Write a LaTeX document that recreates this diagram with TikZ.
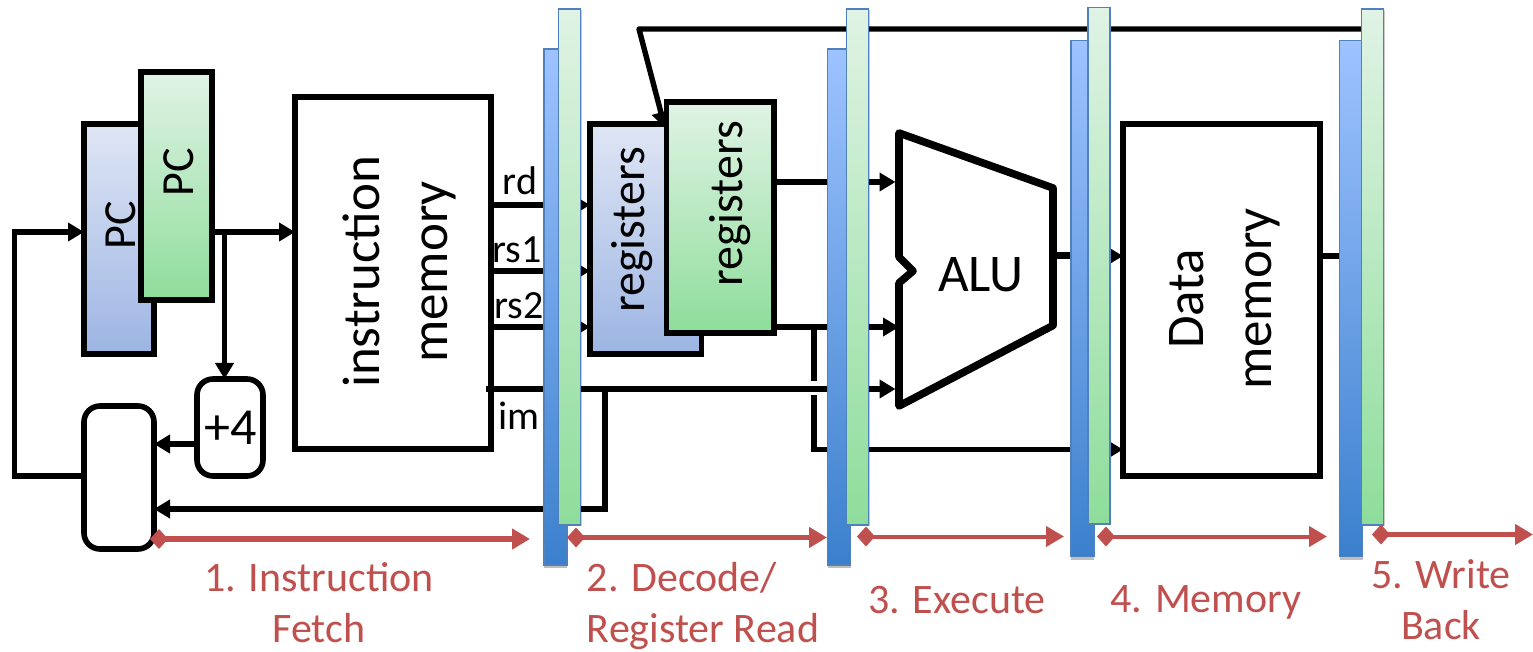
\documentclass[tikz,border=0pt]{standalone}
\usepackage{fontspec}
\setmainfont{Carlito}
\usetikzlibrary{arrows.meta,shadows}

\definecolor{phasered}{HTML}{C0504D}
\definecolor{latchedge}{HTML}{4F81BD}
\definecolor{boxbluetop}{HTML}{DFE6F5}
\definecolor{boxbluelow}{HTML}{9DB5E3}
\definecolor{greentop}{HTML}{E0F3E5}
\definecolor{greenlow}{HTML}{8EDD9B}
\definecolor{latchtop}{HTML}{9EC3FF}
\definecolor{latchmid}{HTML}{7AAAEC}
\definecolor{latchlow}{HTML}{3B80CD}

\tikzset{
  blk/.style={draw,line width=2.8pt,inner sep=0pt,outer sep=0pt,fill=white},
  bluebox/.style={blk,top color=boxbluetop,bottom color=boxbluelow},
  greenbox/.style={blk,top color=greentop,bottom color=greenlow},
  bluelatch/.style={draw=latchedge,line width=.8pt,inner sep=0pt,minimum width=11.5pt,minimum height=258pt,
    top color=latchtop,middle color=latchmid,bottom color=latchlow,
    drop shadow={shadow xshift=0pt,shadow yshift=-1.5pt,opacity=.25,fill=black}},
  greenlatch/.style={draw=latchedge,line width=.8pt,inner sep=0pt,minimum width=11pt,minimum height=258pt,
    top color=greentop,bottom color=greenlow,
    drop shadow={shadow xshift=.5pt,shadow yshift=-.5pt,opacity=.2,fill=black}},
  wire/.style={line width=2.7pt,-{Triangle[length=8pt,width=9pt]}},
  plainwire/.style={line width=2.7pt},
  phase/.style={phasered,line width=2.6pt,{Diamond[length=9pt,width=10pt]}-{Triangle[length=9pt,width=10pt]}},
  vtext/.style={rotate=90,align=center,inner sep=0pt},
  bigvtext/.style={vtext,font=\fontsize{26.5}{34}\selectfont},
  sigtext/.style={inner sep=0pt,font=\fontsize{20}{24}\selectfont},
  phasetext/.style={phasered,inner sep=0pt,font=\fontsize{21}{25.5}\selectfont},
}

\begin{document}
\begin{tikzpicture}[x=.5pt,y=-.5pt]
  \useasboundingbox (0,0) rectangle (1533,652);

  % boxes
  \node[bluebox,minimum width=35pt,minimum height=115pt]   (pca) at (119,239) {};
  \node[greenbox,minimum width=35.5pt,minimum height=114pt] (pcb) at (176.5,186) {};
  \node[blk,minimum width=98pt,minimum height=176pt]        (imem) at (393,273) {};
  \node[blk,rounded corners=8pt,minimum width=33pt,minimum height=48.5pt] (plusfour) at (230,427.5) {};
  \node[blk,rounded corners=8pt,minimum width=35pt,minimum height=71.5pt] (mux) at (119,477.5) {};
  \node[bluebox,minimum width=55.7pt,minimum height=115pt]  (rega) at (645.7,239) {};
  \node[blk,minimum width=98.5pt,minimum height=176pt]      (dmem) at (1221.5,300) {};

  % ALU outline
  \coordinate (alua) at (899,133);
  \coordinate (alub) at (1053,188);
  \coordinate (aluc) at (1053,325.5);
  \coordinate (alud) at (899,406);
  \draw[line width=3.8pt,line join=round,fill=white] (alua) -- (alub) -- (aluc) -- (alud)
    -- (899,283) -- (913,271) -- (899,257) -- cycle;

  % write back into the registers
  \coordinate (wbend)  at (1365,29);
  \coordinate (wbturn) at (639,29);
  \coordinate (wbtip)  at (665,128);
  \draw[wire,line join=round] (wbend) -- (wbturn) -- (wbtip);
  \node[greenbox,minimum width=53.7pt,minimum height=115.5pt] (regb) at (720,217.5) {};

  % fetch
  \coordinate (fbleft) at (14.5,232);
  \coordinate (fbdown) at (14.5,476);
  \coordinate (incr)   at (224.5,232);
  \draw[wire] (mux.west |- fbdown) -- (fbdown) -- (fbleft) -- (pca.west |- fbleft);
  \draw[wire] (pcb.east |- fbleft) -- (imem.west |- fbleft);
  \draw[wire] (incr) -- (incr |- plusfour.north);
  \draw[wire] (plusfour.west |- 0,444) -- (mux.east |- 0,444);

  % decode
  \draw[wire] (imem.east |- 0,205) -- (rega.west |- 0,205);
  \draw[wire] (imem.east |- 0,271) -- (rega.west |- 0,271);
  \draw[wire] (imem.east |- 0,327) -- (rega.west |- 0,327);
  \coordinate (imstart) at (486,389);
  \coordinate (imdown)  at (605,389);
  \coordinate (imback)  at (605,509);
  \draw[wire,shorten >=1.75pt] (imstart) -- (alua |- imstart);
  \draw[wire] (imdown) -- (imback) -- (mux.east |- imback);

  % execute
  \coordinate (jumpa) at (814,327);
  \coordinate (jumpb) at (814,381);
  \coordinate (jumpc) at (814,395);
  \coordinate (jumpd) at (814,449.5);
  \draw[wire,shorten >=1.75pt] (regb.east |- 0,182) -- (alua |- 0,182);
  \draw[wire] (regb.east |- jumpa) -- (alua |- jumpa);
  \draw[plainwire] (jumpa) -- (jumpb);
  \draw[wire] (jumpc) -- (jumpd) -- (dmem.west |- jumpd);
  \draw[wire,line width=3.5pt] (aluc |- 0,256) -- (dmem.west |- 0,256);
  \coordinate (wbin) at (1345,256);
  \draw[plainwire] (dmem.east |- wbin) -- (wbin);

  % pipeline latches
  \node[bluelatch]  (laa) at (555.2,307) {};
  \node[greenlatch] (lab) at (569.5,267) {};
  \node[bluelatch]  (lba) at (839,307) {};
  \node[greenlatch] (lbb) at (857.5,267) {};
  \node[bluelatch]  (lca) at (1082.7,298.5) {};
  \node[greenlatch] (lcb) at (1098.8,265.7) {};
  \node[bluelatch]  (lda) at (1351,298.5) {};
  \node[greenlatch] (ldb) at (1372.5,267) {};

  % stage arrows
  \coordinate (sa) at (150,539);    \coordinate (sb) at (530,539);
  \coordinate (sc) at (567,537.5);  \coordinate (sd) at (827,537.5);
  \coordinate (se) at (857,536.5);  \coordinate (sf) at (1064,536.5);
  \coordinate (sg) at (1097,536.5); \coordinate (sh) at (1327,536.5);
  \coordinate (si) at (1372,534.5); \coordinate (sj) at (1533,534.5);
  \draw[phase] (sa) -- (sb);
  \draw[phase] (sc) -- (sd);
  \draw[phase,line width=2pt] (se) -- (sf);
  \draw[phase,line width=2pt] (sg) -- (sh);
  \draw[phase] (si) -- (sj);

  % labels
  \node[vtext,font=\fontsize{23}{28}\selectfont] (pcatext) at (121,225) {PC};
  \node[vtext,font=\fontsize{23}{28}\selectfont] (pcbtext) at (179,172) {PC};
  \node[bigvtext] (imemtext) at (399,272) {instruction\\memory};
  \node[inner sep=0pt,font=\fontsize{26}{30}\selectfont] (plustext) at (231,428) {+4};
  \node[vtext,font=\fontsize{24}{28}\selectfont] (regatext) at (632,230) {registers};
  \node[vtext,font=\fontsize{24}{28}\selectfont] (regbtext) at (730,204) {registers};
  \node[inner sep=0pt,font=\fontsize{26.5}{30}\selectfont] (alutext) at (981,275) {ALU};
  \node[bigvtext] (dmemtext) at (1225,299) {Data\\memory};
  \node[sigtext] (rdtext)  at (520,181) {rd};
  \node[sigtext] (rsatext) at (517,250) {rs1};
  \node[sigtext] (rsbtext) at (519,306) {rs2};
  \node[sigtext] (imtext)  at (519,416) {im};
  \node[phasetext,align=center] (stagea) at (319,603) {1. Instruction\\Fetch};
  \node[phasetext,align=left] (stageb) at (703,606) {2. Decode/\\Register Read};
  \node[phasetext] (stagec) at (957,600) {3. Execute};
  \node[phasetext] (staged) at (1206,602) {4. Memory};
  \node[phasetext,align=center] (stagee) at (1441,600) {5. Write\\Back};
\end{tikzpicture}
\end{document}
